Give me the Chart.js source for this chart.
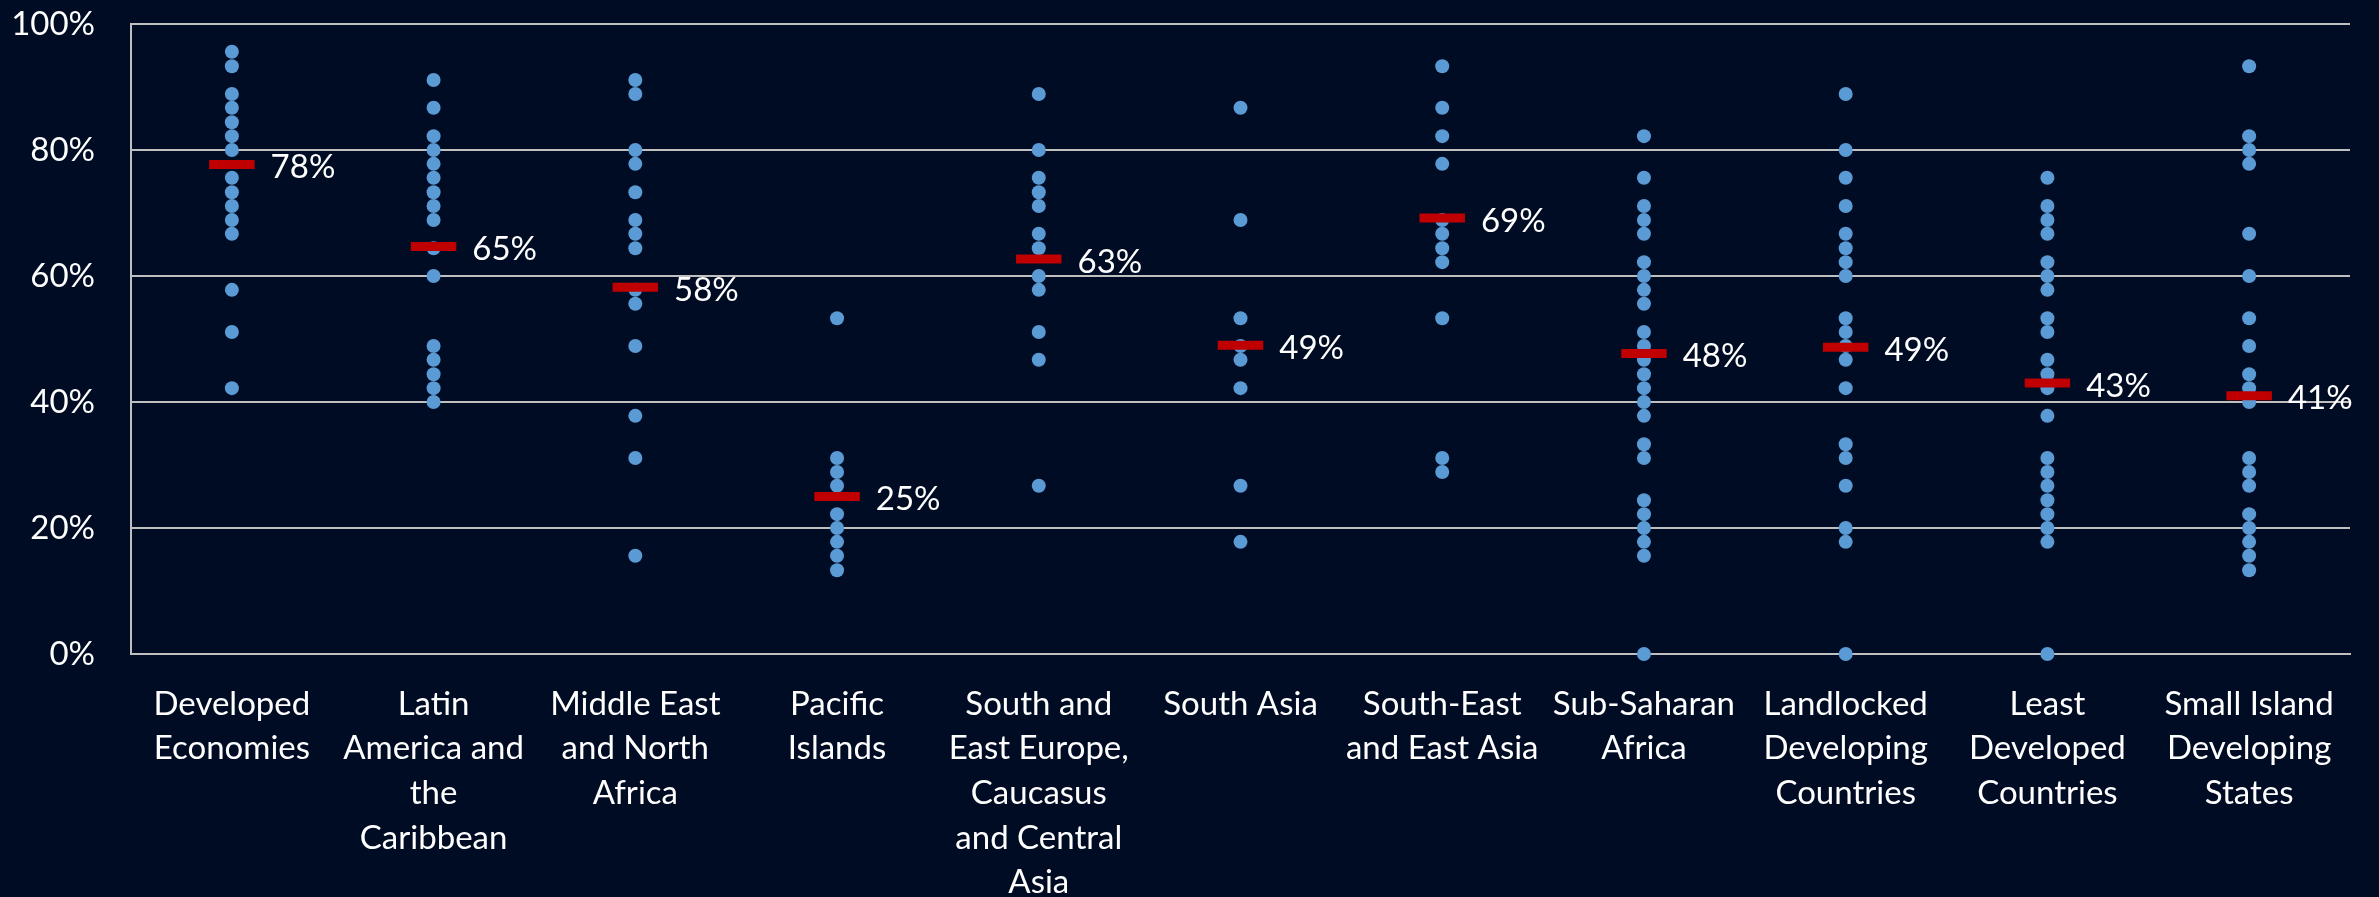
<!DOCTYPE html>
<html lang="en">
<head>
    <meta charset="UTF-8">
    <title>Scores by region</title>
    <style>
        body {
            margin: 0;
            background-color: #000c24;
        }
        #chart-wrap {
            width: 2379px;
            height: 897px;
        }
    </style>
    <script src="https://cdn.jsdelivr.net/npm/chart.js"></script>
</head>
<body>
    <div id="chart-wrap">
        <canvas id="scoresChart" width="2379" height="897"></canvas>
    </div>

    <script>
        // categories (one per column, already wrapped like the original)
        const categories = [
            ['Developed', 'Economies'],
            ['Latin', 'America and', 'the', 'Caribbean'],
            ['Middle East', 'and North', 'Africa'],
            ['Pacific', 'Islands'],
            ['South and', 'East Europe,', 'Caucasus', 'and Central', 'Asia'],
            ['South Asia'],
            ['South-East', 'and East Asia'],
            ['Sub-Saharan', 'Africa'],
            ['Landlocked', 'Developing', 'Countries'],
            ['Least', 'Developed', 'Countries'],
            ['Small Island', 'Developing', 'States']
        ];

        // individual country scores (%) per group
        const developed = [95.6, 93.3, 88.9, 86.7, 84.4, 82.2, 80.0, 75.6, 73.3, 71.1, 68.9, 66.7, 57.8, 51.1, 42.2];
        const latinAmerica = [91.1, 86.7, 82.2, 80.0, 77.8, 75.6, 73.3, 71.1, 68.9, 64.4, 60.0, 48.9, 46.7, 44.4, 42.2, 40.0];
        const middleEast = [91.1, 88.9, 80.0, 77.8, 73.3, 68.9, 66.7, 64.4, 57.8, 55.6, 48.9, 37.8, 31.1, 15.6];
        const pacific = [53.3, 31.1, 28.9, 26.7, 22.2, 20.0, 17.8, 15.6, 13.3];
        const eastEurope = [88.9, 80.0, 75.6, 73.3, 71.1, 66.7, 64.4, 60.0, 57.8, 51.1, 46.7, 26.7];
        const southAsia = [86.7, 68.9, 53.3, 48.9, 46.7, 42.2, 26.7, 17.8];
        const eastAsia = [93.3, 86.7, 82.2, 77.8, 68.9, 66.7, 64.4, 62.2, 53.3, 31.1, 28.9];
        const subSaharan = [82.2, 75.6, 71.1, 68.9, 66.7, 62.2, 60.0, 57.8, 55.6, 51.1, 48.9, 46.7, 44.4, 42.2, 40.0, 37.8, 33.3, 31.1, 24.4, 22.2, 20.0, 17.8, 15.6, 0];
        const landlocked = [88.9, 80.0, 75.6, 71.1, 66.7, 64.4, 62.2, 60.0, 53.3, 51.1, 48.9, 46.7, 42.2, 33.3, 31.1, 26.7, 20.0, 17.8, 0];
        const leastDeveloped = [75.6, 71.1, 68.9, 66.7, 62.2, 60.0, 57.8, 53.3, 51.1, 46.7, 44.4, 42.2, 37.8, 31.1, 28.9, 26.7, 24.4, 22.2, 20.0, 17.8, 0];
        const smallIslands = [93.3, 82.2, 80.0, 77.8, 66.7, 60.0, 53.3, 48.9, 44.4, 42.2, 40.0, 31.1, 28.9, 26.7, 22.2, 20.0, 17.8, 15.6, 13.3];

        // group averages (%)
        const averages = [77.7, 64.7, 58.2, 25.0, 62.7, 49.0, 69.2, 47.7, 48.7, 43.0, 41.0];

        const yTicks = [0, 20, 40, 60, 80, 100];

        const groups = [developed, latinAmerica, middleEast, pacific, eastEurope, southAsia,
            eastAsia, subSaharan, landlocked, leastDeveloped, smallIslands];

        // x is the column index; the x axis maps it back to the category names
        const countryPoints = [];
        groups.forEach((vals, i) => {
            vals.forEach(v => countryPoints.push({ x: i, y: v }));
        });
        const averagePoints = averages.map((v, i) => ({ x: i, y: v }));

        const fontFamily = "Lato, 'Open Sans', sans-serif";
        const barHalf = 22.75;

        // writes "78%" etc. next to each red average mark
        const averageLabels = {
            id: 'averageLabels',
            afterDatasetsDraw(chart) {
                const ctx = chart.ctx;
                const meta = chart.getDatasetMeta(0);
                ctx.save();
                ctx.fillStyle = '#ffffff';
                ctx.font = '33px ' + fontFamily;
                ctx.textAlign = 'left';
                ctx.textBaseline = 'middle';
                meta.data.forEach((pt, i) => {
                    ctx.fillText(Math.round(averages[i]) + '%', pt.x + barHalf + 16, pt.y + 3);
                });
                ctx.restore();
            }
        };

        new Chart(document.getElementById('scoresChart'), {
            type: 'scatter',
            data: {
                datasets: [{
                    label: 'Average',
                    data: averagePoints,
                    order: 0,
                    pointStyle: 'line',
                    radius: barHalf,
                    hoverRadius: barHalf,
                    borderWidth: 9,
                    hoverBorderWidth: 9,
                    borderColor: '#c00000',
                    backgroundColor: '#c00000'
                }, {
                    label: 'Countries',
                    data: countryPoints,
                    order: 1,
                    pointStyle: 'circle',
                    radius: 7,
                    hoverRadius: 7,
                    borderWidth: 0,
                    backgroundColor: '#5b9bd5'
                }]
            },
            options: {
                responsive: false,
                devicePixelRatio: 1,
                animation: false,
                clip: false,
                layout: {
                    autoPadding: false,
                    padding: { top: 24, right: 29, left: 0, bottom: 0 }
                },
                plugins: {
                    legend: { display: false },
                    tooltip: { enabled: false }
                },
                scales: {
                    x: {
                        type: 'linear',
                        min: -0.5,
                        max: categories.length - 0.5,
                        afterBuildTicks(scale) {
                            scale.ticks = categories.map((c, i) => ({ value: i }));
                        },
                        grid: { display: false },
                        border: { color: '#bfbfbf', width: 2 },
                        ticks: {
                            color: '#ffffff',
                            font: { family: fontFamily, size: 33, lineHeight: 1.35 },
                            padding: 20,
                            maxRotation: 0,
                            autoSkip: false,
                            callback: v => categories[v]
                        },
                        afterFit(scale) { scale.height = 243; }
                    },
                    y: {
                        min: 0,
                        max: 100,
                        afterBuildTicks(scale) {
                            scale.ticks = yTicks.map(v => ({ value: v }));
                        },
                        grid: { color: '#bfbfbf', lineWidth: 2, drawTicks: false },
                        border: { color: '#bfbfbf', width: 2 },
                        ticks: {
                            color: '#ffffff',
                            font: { family: fontFamily, size: 33 },
                            padding: 36,
                            callback: v => v + '%'
                        },
                        afterFit(scale) {
                            scale.width = 131;
                            // tick padding would otherwise push the plot top down
                            scale.paddingTop = 0;
                        }
                    }
                }
            },
            plugins: [averageLabels]
        });
    </script>
</body>
</html>
